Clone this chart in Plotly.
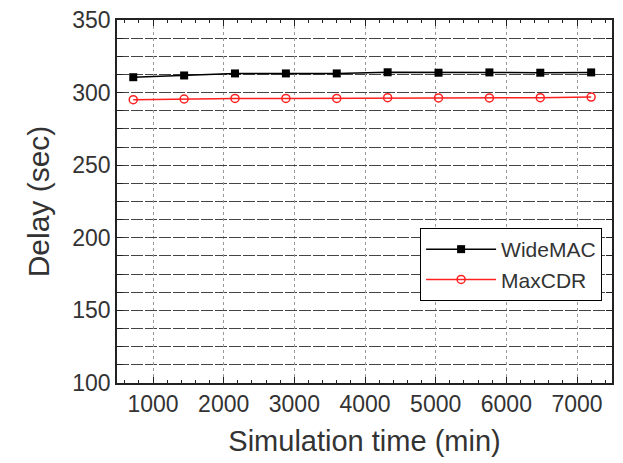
import plotly.graph_objects as go

# simulation time (min)
sim_time = [720, 1440, 2160, 2880, 3600, 4320, 5040, 5760, 6480, 7200]

# delay (sec)
widemac_delay = [310.6, 311.8, 313.2, 313.2, 313.2, 314.0, 313.7, 313.9, 313.7, 313.9]
maxcdr_delay = [295.1, 295.6, 296.0, 296.0, 296.0, 296.5, 296.3, 296.3, 296.5, 296.9]

fig = go.Figure()

fig.add_trace(go.Scatter(
    x=sim_time, y=widemac_delay, name="WideMAC",
    mode="lines+markers",
    line=dict(color="black", width=1.5),
    marker=dict(symbol="square", size=8, color="black"),
))
fig.add_trace(go.Scatter(
    x=sim_time, y=maxcdr_delay, name="MaxCDR",
    mode="lines+markers",
    line=dict(color="#ff2020", width=1.5),
    marker=dict(symbol="circle-open", size=8, color="#ff2020", line=dict(width=1.5)),
))

# page body adds 8px offset, so margins are shifted to compensate
fig.update_layout(
    width=623, height=463,
    margin=dict(l=109, r=19, t=12, b=88),
    paper_bgcolor="white", plot_bgcolor="white",
    font=dict(family="Liberation Sans, Arial, sans-serif", size=23, color="#333"),
    showlegend=True,
    legend=dict(
        x=0.98, xanchor="right", y=0.427, yanchor="top",
        bordercolor="black", borderwidth=1, bgcolor="white",
        font=dict(size=21), itemwidth=70, tracegroupgap=0,
    ),
)

fig.update_xaxes(
    range=[490, 7495], automargin=False,
    tickvals=[1000, 2000, 3000, 4000, 5000, 6000, 7000],
    ticks="inside", ticklen=6, tickcolor="#222",
    showline=True, linecolor="#222", linewidth=1.5, mirror="ticks",
    showgrid=True, gridcolor="#999", griddash="dot", gridwidth=1,
    minor=dict(dtick=200, tick0=0, ticks="inside", ticklen=3, tickcolor="#222", showgrid=False),
    zeroline=False, ticklabeloverflow="allow",
    title=dict(text="Simulation time (min)", font=dict(size=29), standoff=14),
)

fig.update_yaxes(
    range=[100, 350], automargin=False,
    dtick=50, tick0=100,
    ticks="inside", ticklen=6, tickcolor="#222",
    showline=True, linecolor="#222", linewidth=1.5, mirror="ticks",
    showgrid=True, gridcolor="#444", griddash="12px,2px", gridwidth=1,
    minor=dict(dtick=12.5, tick0=100, ticks="inside", ticklen=6, tickcolor="#222",
               showgrid=True, gridcolor="#444", griddash="12px,2px", gridwidth=1),
    zeroline=False, ticklabeloverflow="allow",
    title=dict(text="Delay (sec)", font=dict(size=30), standoff=14),
)

fig.write_html("out.html")
